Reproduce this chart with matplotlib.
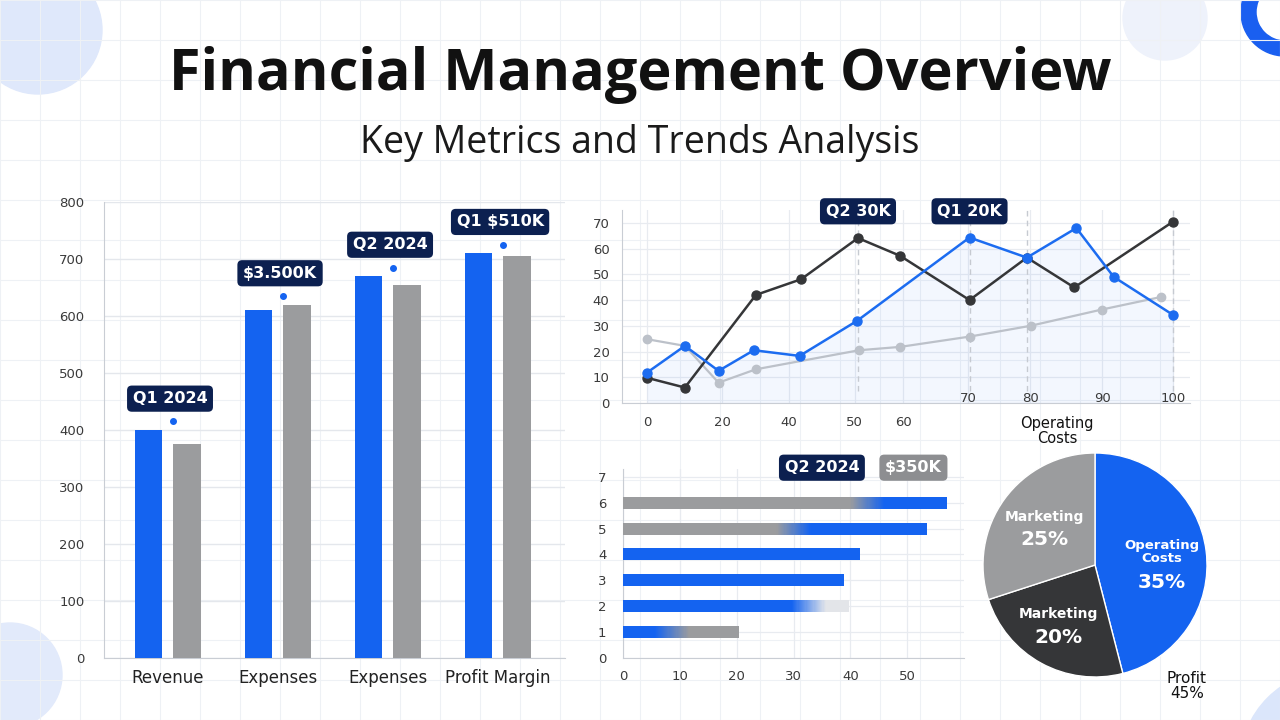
import matplotlib
matplotlib.use("Agg")
import matplotlib.pyplot as plt
from matplotlib import patches
import numpy as np
from matplotlib.colors import to_rgb

plt.rcParams['font.family'] = ['DejaVu Sans']

BLUE = "#1463f0"
GRAY = "#9b9c9e"
DARK = "#353638"
NAVY = "#0c2050"
LIGHT = "#bcc1c9"
TICK = "#3a3a3a"
SPINE = "#c9cdd4"

# ---- left: grouped bars
bar_cats = ["Revenue", "Expenses", "Expenses", "Profit Margin"]
bar_blue = [400, 610, 670, 710]
bar_gray = [375, 620, 655, 705]
bar_ticks = [0, 100, 200, 300, 400, 500, 600, 700, 800]
bar_notes = ["Q1 2024", "$3.500K", "Q2 2024", "Q1 $510K"]

# ---- top right: lines
dark_x = [0, 7.2, 20.7, 29.3, 40.1, 48.1, 61.3, 72.2, 81.2, 100]
dark_y = [9.8, 6.0, 42.0, 48.1, 64.1, 57.2, 40.0, 56.5, 44.9, 70.5]
blue_x = [0, 7.2, 13.6, 20.3, 29.0, 39.9, 61.3, 72.2, 81.6, 88.7, 100]
blue_y = [11.8, 22.2, 12.5, 20.5, 18.3, 31.9, 64.3, 56.5, 68.0, 49.0, 34.2]
gray_x = [0, 7.2, 13.6, 20.7, 40.3, 48.1, 61.3, 72.9, 86.4, 97.7]
gray_y = [24.8, 22.2, 7.9, 13.1, 20.5, 21.8, 25.8, 30.0, 36.3, 41.2]
line_xticks = [0, 14.3, 27, 39.5, 48.7, 61, 72.8, 86.5, 100]
line_xlabels = ["0", "20", "40", "50", "60", "70", "80", "90", "100"]
line_yticks = [0, 10, 20, 30, 40, 50, 60, 70]
line_notes = [("Q2 30K", 40.1), ("Q1 20K", 61.3)]

# ---- bottom middle: horizontal bars (rows 1..6 from bottom)
hb_rows = [1, 2, 3, 4, 5, 6]
hb_first = [8.6, 32.7, 38.9, 41.7, 30.0, 43.0]
hb_second = [11.8, 7.1, 0, 0, 23.5, 14.0]
hb_first_col = [BLUE, BLUE, BLUE, BLUE, GRAY, GRAY]
hb_second_col = [GRAY, "#e3e5e9", BLUE, BLUE, BLUE, BLUE]
hb_xticks = [0, 10, 20, 30, 40, 50]

# ---- pie
pie_vals = [46, 24, 30]
pie_cols = [BLUE, DARK, GRAY]

fig = plt.figure(figsize=(12.8, 7.2), dpi=100)

# background: graph paper + soft blobs
bg = fig.add_axes([0, 0, 1, 1], zorder=-5)
bg.set_xlim(0, 1280)
bg.set_ylim(720, 0)
bg.axis("off")
for gx in range(0, 1281, 40):
    bg.axvline(gx, color="#eef1f5", lw=0.8)
for gy in range(0, 721, 40):
    bg.axhline(gy, color="#eef1f5", lw=0.8)
bg.add_patch(patches.Circle((38, 30), 64, color="#dfe8fb"))
bg.add_patch(patches.Circle((10, 675), 52, color="#e2eafb"))
bg.add_patch(patches.Circle((1165, 18), 42, color="#eef2fb"))
bg.add_patch(patches.Wedge((1285, 12), 44, 0, 360, width=15, color="#1a5ff0"))
bg.add_patch(patches.Circle((1335, 765), 95, color="#dbe6fb"))

fig.text(0.5, 1 - 75 / 720, "Financial Management Overview", ha="center", va="center",
         fontsize=41.5, fontweight="bold", family="Open Sans", color="#111111")
fig.text(0.5, 1 - 143 / 720, "Key Metrics and Trends Analysis", ha="center", va="center",
         fontsize=27, family="Open Sans", color="#1a1a1a")


def clean(ax):
    for s in ["top", "right"]:
        ax.spines[s].set_visible(False)
    for s in ["left", "bottom"]:
        ax.spines[s].set_color(SPINE)
    ax.tick_params(length=0, colors=TICK, labelsize=9.5)
    ax.set_facecolor("none")


def note(ax, x, y, txt, fc=NAVY, size=11.5):
    ax.text(x, y, txt, ha="center", va="center", color="white", fontsize=size,
            fontweight="bold", clip_on=False, zorder=6,
            bbox=dict(boxstyle="round,pad=0.35,rounding_size=0.3", fc=fc, ec="none"))


# ---------- grouped bars
ax1 = fig.add_axes([104 / 1280, 62 / 720, 461 / 1280, 456 / 720])
clean(ax1)
xs = list(range(len(bar_cats)))
ax1.bar([x - 0.173 for x in xs], bar_blue, width=0.245, color=BLUE, zorder=3)
ax1.bar([x + 0.173 for x in xs], bar_gray, width=0.26, color=GRAY, zorder=3)
ax1.set_xlim(-0.58, 3.61)
ax1.set_ylim(0, 800)
ax1.set_yticks(bar_ticks)
ax1.set_xticks(xs)
ax1.set_xticklabels(bar_cats, fontsize=12, color="#222222")
ax1.tick_params(axis="x", pad=8)
ax1.tick_params(axis="y", pad=14)
ax1.grid(axis="y", color="#e4e7ec", lw=1)
ax1.set_axisbelow(True)
for i, txt in enumerate(bar_notes):
    top = max(bar_blue[i], bar_gray[i])
    ax1.plot(i + 0.05, top + 15, "o", color=BLUE, ms=4, zorder=5)
    note(ax1, i + 0.02, top + 55, txt)

# ---------- lines
ax2 = fig.add_axes([622 / 1280, 317 / 720, 568 / 1280, 193 / 720])
clean(ax2)
ax2.set_xlim(-4.75, 103.2)
ax2.set_ylim(0, 75)
ax2.set_yticks(line_yticks)
ax2.set_xticks(line_xticks)
# the last four x labels sit just above the axis line, as in the source
ax2.set_xticklabels(line_xlabels[:5] + [""] * 4)
for xv, lb in zip(line_xticks[5:], line_xlabels[5:]):
    ax2.text(xv, 1.8, lb, ha="center", va="center", fontsize=9.5, color=TICK)
ax2.tick_params(axis="x", pad=9)
ax2.tick_params(axis="y", pad=9)
ax2.grid(color="#e8ebf0", lw=0.9)
ax2.set_axisbelow(True)
ax2.fill_between(blue_x, blue_y, 0, color=BLUE, alpha=0.05, lw=0)
ax2.plot(gray_x, gray_y, "-o", color=LIGHT, lw=1.6, ms=6, zorder=3)
ax2.plot(dark_x, dark_y, "-o", color=DARK, lw=1.8, ms=6.5, zorder=4)
ax2.plot(blue_x, blue_y, "-o", color="#1c6cf0", lw=1.8, ms=6.5, zorder=5)
for xv in [40.1, 61.3, 72.2, 100]:
    ax2.axvline(xv, ymin=0.06, color="#c6cad1", lw=1, ls=(0, (4, 3)), zorder=1)
for txt, xv in line_notes:
    note(ax2, xv, 74.5, txt)

# ---------- horizontal bars
ax3 = fig.add_axes([623 / 1280, 62 / 720, 341 / 1280, 189 / 720])
clean(ax3)
ax3.barh(hb_rows, hb_first, height=0.46, color=hb_first_col, zorder=3)
ax3.barh(hb_rows, hb_second, left=hb_first, height=0.46, color=hb_second_col, zorder=3)
# soft blend where two colours meet
for r, a, b, ca, cb in zip(hb_rows, hb_first, hb_second, hb_first_col, hb_second_col):
    if b == 0 or ca == cb:
        continue
    ra, rb = np.array(to_rgb(ca)), np.array(to_rgb(cb))
    span = min(6.0, a, b * 2)
    steps = 30
    w = span / steps
    for k in range(steps):
        t = (k + 0.5) / steps
        ax3.barh(r, w * 1.05, left=a - span / 2 + k * w, height=0.46,
                 color=ra * (1 - t) + rb * t, zorder=4, lw=0)
ax3.set_xlim(0, 60)
ax3.set_ylim(0, 7.3)
ax3.set_xticks(hb_xticks)
ax3.set_yticks(range(8))
ax3.tick_params(axis="x", pad=9)
ax3.tick_params(axis="y", pad=12)
ax3.grid(color="#e8ebf0", lw=0.9)
ax3.set_axisbelow(True)
note(ax3, 35.0, 7.35, "Q2 2024")
note(ax3, 51.1, 7.35, "$350K", fc="#8d8e91")

# ---------- pie
ax4 = fig.add_axes([983 / 1280, 43 / 720, 224 / 1280, 224 / 720])
ax4.pie(pie_vals, colors=pie_cols, startangle=90, counterclock=False,
        wedgeprops=dict(edgecolor="white", linewidth=1))
ax4.set_xlim(-1, 1)
ax4.set_ylim(-1, 1)
lab = dict(ha="center", va="center", color="white", fontweight="bold")
ax4.text(-0.45, 0.43, "Marketing", fontsize=10, **lab)
ax4.text(-0.45, 0.23, "25%", fontsize=14.5, **lab)
ax4.text(-0.33, -0.44, "Marketing", fontsize=10, **lab)
ax4.text(-0.33, -0.65, "20%", fontsize=14.5, **lab)
ax4.text(0.6, 0.12, "Operating\nCosts", fontsize=9.5, linespacing=1.0, **lab)
ax4.text(0.6, -0.16, "35%", fontsize=14.5, **lab)
ax4.text(-0.34, 1.2, "Operating\nCosts", fontsize=10.5, ha="center", va="center",
         color="#111111", clip_on=False, linespacing=1.0)
ax4.text(0.82, -1.08, "Profit\n45%", fontsize=11, ha="center", va="center",
         color="#111111", clip_on=False, linespacing=1.0)

fig.savefig("out.png", dpi=100)
